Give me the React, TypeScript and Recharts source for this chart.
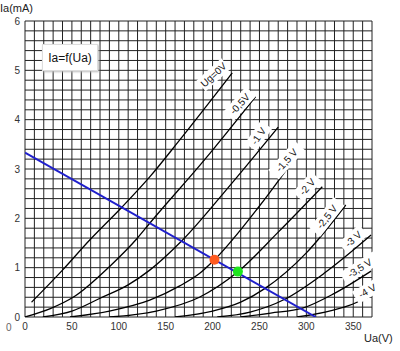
import React from "react";
import { LineChart, Line, XAxis, YAxis, CartesianGrid, ReferenceDot } from "recharts";

// anode characteristics, Ua in V, Ia in mA
const ug0 = [
  { v: 7, i: 0.3 }, { v: 40, i: 0.95 }, { v: 69, i: 1.56 }, { v: 103, i: 2.22 },
  { v: 133, i: 2.84 }, { v: 165, i: 3.59 }, { v: 221, i: 4.95 },
];
const ug05 = [
  { v: 0, i: 0 }, { v: 27, i: 0.17 }, { v: 53, i: 0.42 }, { v: 90, i: 1.02 },
  { v: 119, i: 1.58 }, { v: 133, i: 1.9 }, { v: 192, i: 3.2 }, { v: 246, i: 4.47 },
];
const ug1 = [
  { v: 19, i: 0 }, { v: 50, i: 0.12 }, { v: 80, i: 0.38 }, { v: 110, i: 0.65 },
  { v: 133, i: 0.95 }, { v: 167, i: 1.54 }, { v: 220, i: 2.7 }, { v: 270, i: 3.85 },
];
const ug15 = [
  { v: 48, i: 0 }, { v: 90, i: 0.12 }, { v: 133, i: 0.34 }, { v: 165, i: 0.63 },
  { v: 186, i: 0.88 }, { v: 202, i: 1.16 }, { v: 250, i: 2.25 }, { v: 294, i: 3.39 },
];
const ug2 = [
  { v: 90, i: 0 }, { v: 140, i: 0.12 }, { v: 186, i: 0.4 }, { v: 226, i: 0.9 },
  { v: 270, i: 1.72 }, { v: 317, i: 2.64 },
];
const ug25 = [
  { v: 160, i: 0 }, { v: 200, i: 0.12 }, { v: 230, i: 0.3 }, { v: 256, i: 0.58 },
  { v: 300, i: 1.3 }, { v: 342, i: 2.27 },
];
const ug3 = [
  { v: 205, i: 0 }, { v: 240, i: 0.1 }, { v: 277, i: 0.36 }, { v: 320, i: 0.9 }, { v: 369, i: 1.66 },
];
const ug35 = [
  { v: 230, i: 0 }, { v: 262, i: 0.08 }, { v: 296, i: 0.18 }, { v: 330, i: 0.48 }, { v: 369, i: 0.93 },
];
const ug4 = [
  { v: 290, i: 0 }, { v: 320, i: 0.1 }, { v: 345, i: 0.23 }, { v: 367, i: 0.41 },
];
const curves = [ug0, ug05, ug1, ug15, ug2, ug25, ug3, ug35, ug4];

const loadLine = [{ v: 0, i: 3.33 }, { v: 310, i: 0 }];
const pointOrange = [{ v: 202, i: 1.16 }];
const pointGreen = [{ v: 227, i: 0.92 }];

// curve tags and where they sit
const tagText = ["Ug=0V", "-0,5V", "-1 V", "-1,5 V", "-2 V", "-2,5 V", "-3 V", "-3,5 V", "-4 V"];
const tagAt = [
  { v: 201, i: 4.91 }, { v: 229, i: 4.32 }, { v: 249, i: 3.67 }, { v: 279, i: 3.18 },
  { v: 301, i: 2.64 }, { v: 322, i: 2.03 }, { v: 350, i: 1.58 }, { v: 357, i: 0.99 }, { v: 365, i: 0.53 },
];
const tagAngle = [-42, -48, -55, -48, -48, -52, -42, -33, -30];

const xTicks = Array.from({ length: 38 }, (_, k) => k * 10);
const yTicks = Array.from({ length: 31 }, (_, k) => k / 5);

const font = "'Liberation Sans', Arial, sans-serif";

function Tag(props: any) {
  const { cx, cy, text, angle } = props;
  const w = text.length * 5.9 + 4;
  return (
    <g transform={`translate(${cx},${cy}) rotate(${angle})`}>
      <rect x={-w / 2} y={-7} width={w} height={14} fill="#fff" />
      <text textAnchor="middle" dy="0.35em" fontSize={10} fontFamily={font} fill="#111">
        {text}
      </text>
    </g>
  );
}

export default function App() {
  return (
    <div style={{ position: "absolute", left: 0, top: 0, width: 400, height: 351, background: "#fff" }}>
      <LineChart width={400} height={351} margin={{ top: 21, right: 28, left: 0, bottom: 0 }}>
        <CartesianGrid stroke="#222" strokeWidth={1} />
        <XAxis
          type="number"
          dataKey="v"
          domain={[0, 370]}
          ticks={xTicks}
          interval={0}
          height={34}
          axisLine={false}
          tickLine={false}
          tickSize={4}
          tick={{ fontSize: 10, fill: "#333", fontFamily: font }}
          tickFormatter={(v: number) => (v % 50 === 0 ? String(v) : "")}
          allowDataOverflow
        />
        <YAxis
          type="number"
          dataKey="i"
          domain={[0, 6]}
          ticks={yTicks}
          interval={0}
          width={25}
          axisLine={false}
          tickLine={false}
          tickSize={3}
          tick={{ fontSize: 10, fill: "#333", fontFamily: font }}
          tickFormatter={(v: number) => (Math.abs(v - Math.round(v)) < 1e-6 ? String(Math.round(v)) : "")}
          allowDataOverflow
        />
        {curves.map((c, k) => (
          <Line
            key={k}
            data={c}
            dataKey="i"
            type="monotone"
            stroke="#000"
            strokeWidth={1.3}
            dot={false}
            isAnimationActive={false}
          />
        ))}
        <Line data={loadLine} dataKey="i" type="linear" stroke="#1f1fcc" strokeWidth={2} dot={false} isAnimationActive={false} />
        <Line
          data={pointOrange}
          dataKey="i"
          stroke="none"
          dot={{ r: 5, fill: "#ff5a1f", stroke: "none" }}
          isAnimationActive={false}
        />
        <Line
          data={pointGreen}
          dataKey="i"
          stroke="none"
          dot={{ r: 5, fill: "#1ee61e", stroke: "none" }}
          isAnimationActive={false}
        />
        {tagAt.map((p, k) => (
          <ReferenceDot
            key={k}
            x={p.v}
            y={p.i}
            r={0}
            shape={(sp: any) => <Tag cx={sp.cx} cy={sp.cy} text={tagText[k]} angle={tagAngle[k]} />}
          />
        ))}
      </LineChart>
      <div style={{ position: "absolute", left: 0, top: 2, fontSize: 11, fontFamily: font, color: "#222" }}>Ia(mA)</div>
      <div style={{ position: "absolute", left: 364, top: 332, fontSize: 11, fontFamily: font, color: "#222" }}>Ua(V)</div>
      <div style={{ position: "absolute", left: 6, top: 322, fontSize: 10, fontFamily: font, color: "#666" }}>0</div>
      <div
        style={{
          position: "absolute",
          left: 42,
          top: 44,
          width: 54,
          height: 25,
          background: "#fff",
          border: "1px solid #ddd",
          boxShadow: "1px 1px 2px #bbb",
          fontSize: 12,
          fontFamily: font,
          color: "#111",
          display: "flex",
          alignItems: "center",
          justifyContent: "center",
        }}
      >
        Ia=f(Ua)
      </div>
    </div>
  );
}
